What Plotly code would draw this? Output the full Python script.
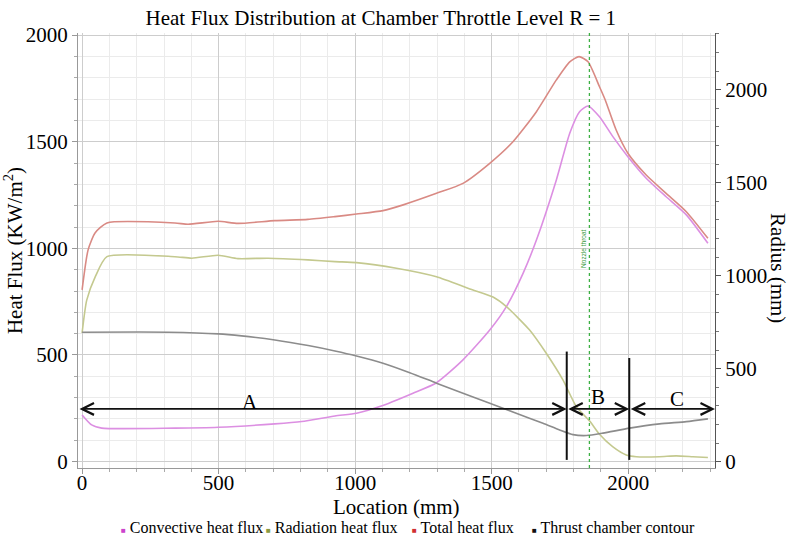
import plotly.graph_objects as go

# ---------------- data ----------------
total_x = [0, 22, 48, 91, 340, 388, 498, 571, 706, 827, 926, 1005, 1102, 1176, 1298,
           1395, 1493, 1578, 1664, 1737, 1786, 1820, 1853, 1895, 1916, 1956, 1999,
           2066, 2139, 2213, 2292]
total_flux = [805, 993, 1073, 1119, 1119, 1113, 1127, 1117, 1130, 1136, 1149, 1161, 1177,
              1204, 1258, 1305, 1399, 1500, 1641, 1790, 1875, 1899, 1875, 1758, 1696,
              1555, 1446, 1344, 1258, 1172, 1047]

conv_x = [0, 35, 72, 340, 499, 706, 804, 926, 1005, 1090, 1212, 1298, 1395, 1493, 1554,
          1615, 1664, 1737, 1786, 1822, 1853, 1895, 1944, 1999, 2066, 2139, 2213, 2292]
conv_flux = [219, 172, 157, 157, 161, 177, 188, 214, 227, 258, 321, 370, 477, 617, 727,
             883, 1039, 1321, 1540, 1641, 1668, 1617, 1524, 1430, 1329, 1242, 1157, 1024]

rad_x = [0, 17, 48, 91, 340, 402, 498, 571, 681, 827, 926, 1005, 1151, 1298, 1420, 1505,
         1554, 1639, 1700, 1761, 1810, 1859, 1895, 1943, 1993, 2030, 2115, 2176, 2237, 2292]
rad_flux = [603, 757, 866, 961, 961, 954, 968, 952, 954, 946, 938, 933, 907, 867, 810, 772,
            727, 617, 508, 383, 258, 190, 128, 70, 31, 23, 23, 27, 23, 19]

contour_x = [0, 316, 499, 584, 706, 828, 926, 1005, 1102, 1200, 1298, 1395, 1493, 1590,
             1688, 1749, 1798, 1847, 1908, 2005, 2115, 2213, 2292]
contour_r = [696, 696, 687, 676, 654, 624, 595, 568, 529, 478, 422, 368, 314, 260, 206,
             170, 145, 140, 153, 180, 203, 215, 230]

x_ticks = [0, 500, 1000, 1500, 2000]
y_ticks = [0, 500, 1000, 1500, 2000]
r_ticks = [0, 500, 1000, 1500, 2000]

series_names = ["Convective heat flux", "Radiation heat flux", "Total heat flux",
                "Thrust chamber contour"]
line_colors = ["#dc8fe2", "#c4c98f", "#d98a84", "#8c8c8c"]
legend_colors = ["#cc44cc", "#8a9a40", "#d03030", "#111111"]

# region markers (A / B / C) and nozzle throat
x_limits = [-15, 2318]
region_edges = [1775, 2004]
region_edge_tops = [516, 486]
region_edge_bottom = 8
region_arrow_level = 247
region_labels = ["A", "B", "C"]
region_label_x = [615, 1891, 2178]
region_label_y = [281, 305, 293]
throat_x = 1858

SERIF = "Liberation Serif, Times New Roman, serif"

fig = go.Figure()
fig.add_trace(go.Scatter(x=conv_x, y=conv_flux, mode="lines", name=series_names[0],
                         line=dict(color=line_colors[0], width=1.6, shape="spline", smoothing=0.6),
                         showlegend=False))
fig.add_trace(go.Scatter(x=rad_x, y=rad_flux, mode="lines", name=series_names[1],
                         line=dict(color=line_colors[1], width=1.6, shape="spline", smoothing=0.6),
                         showlegend=False))
fig.add_trace(go.Scatter(x=total_x, y=total_flux, mode="lines", name=series_names[2],
                         line=dict(color=line_colors[2], width=1.6, shape="spline", smoothing=0.6),
                         showlegend=False))
fig.add_trace(go.Scatter(x=contour_x, y=contour_r, mode="lines", name=series_names[3],
                         yaxis="y2",
                         line=dict(color=line_colors[3], width=1.6, shape="spline", smoothing=0.6),
                         showlegend=False))

# nozzle throat dotted line
fig.add_shape(type="line", xref="x", yref="paper", x0=throat_x, x1=throat_x, y0=0, y1=1,
              line=dict(color="#3cb043", width=1.3, dash="dot"))
fig.add_annotation(x=throat_x, xref="x", y=997, yref="y", text="Nozzle throat",
                   textangle=-90, showarrow=False, xanchor="right", xshift=-1,
                   font=dict(size=6.5, color="#3a9a40", family="Liberation Sans, Arial"))

# region boundary lines
for xe, top in zip(region_edges, region_edge_tops):
    fig.add_shape(type="line", xref="x", yref="y", x0=xe, x1=xe, y0=region_edge_bottom, y1=top,
                  line=dict(color="#111111", width=2))

# region double arrows
edges = [x_limits[0]] + region_edges + [x_limits[1]]
for i in range(len(edges) - 1):
    fig.add_annotation(x=edges[i + 1], y=region_arrow_level, xref="x", yref="y",
                       ax=edges[i], ay=region_arrow_level, axref="x", ayref="y",
                       text="", showarrow=True, arrowside="end+start",
                       arrowhead=5, startarrowhead=5, arrowsize=1.3, startarrowsize=1.3,
                       arrowwidth=1.8, arrowcolor="#111111", standoff=0, startstandoff=0)
for lab, lx, ly in zip(region_labels, region_label_x, region_label_y):
    fig.add_annotation(x=lx, y=ly, xref="x", yref="y", text=lab, showarrow=False,
                       font=dict(size=21, family=SERIF, color="#000"))

# right axis title (reads top to bottom)
fig.add_annotation(x=1.097, y=0.46, xref="paper", yref="paper", text="Radius (mm)",
                   textangle=90, showarrow=False, xshift=15,
                   font=dict(size=21, family=SERIF, color="#000"))

# x axis title
fig.add_annotation(x=0.5, y=(468 - 507) / 435, xref="paper", yref="paper",
                   text="Location (mm)", showarrow=False, yanchor="middle",
                   font=dict(size=21, family=SERIF, color="#000"))

# legend-like row
legend_px = [119, 264, 410, 530]
for name, col, px in zip(series_names, legend_colors, legend_px):
    fig.add_annotation(x=(px - 78) / 637, y=(468 - 527) / 435, xref="paper", yref="paper",
                       xanchor="left", yanchor="middle", showarrow=False,
                       text=f"<span style='color:{col};font-size:8px'>■</span> {name}",
                       font=dict(size=16, family=SERIF, color="#000"))

axis_common = dict(
    tickfont=dict(size=21, family=SERIF, color="#000"),
    showline=True, ticks="outside", ticklen=5, zeroline=False, automargin=False,
)

fig.update_layout(
    width=795, height=538,
    margin=dict(l=78, r=80, t=33, b=70),
    paper_bgcolor="white", plot_bgcolor="white",
    font=dict(family=SERIF, color="#000"),
    title=dict(text="Heat Flux Distribution at Chamber Throttle Level R = 1",
               x=0.479, xref="container", xanchor="center",
               y=1 - 18 / 538, yref="container", yanchor="middle",
               font=dict(size=21, family=SERIF, color="#000")),
    xaxis=dict(range=x_limits, tickvals=x_ticks, showgrid=True, gridcolor="#cdcdcd",
               linecolor="#999999", tickcolor="#999999", ticklabelstandoff=-9,
               minor=dict(dtick=100, tick0=0, showgrid=True, gridcolor="#ebebeb",
                          ticks="outside", ticklen=3, tickcolor="#aaaaaa"),
               **axis_common),
    yaxis=dict(range=[-30, 2010], tickvals=y_ticks, showgrid=True, gridcolor="#cdcdcd",
               linecolor="#999999", tickcolor="#999999",
               minor=dict(dtick=100, tick0=0, showgrid=True, gridcolor="#ebebeb",
                          ticks="outside", ticklen=3, tickcolor="#aaaaaa"),
               title=dict(text="Heat Flux (KW/m<sup>2</sup>)", standoff=6,
                          font=dict(size=21, family=SERIF, color="#000")),
               **axis_common),
    yaxis2=dict(range=[-34.4, 2305], tickvals=r_ticks, overlaying="y", side="right",
                showgrid=False, linecolor="#555555", tickcolor="#555555",
                minor=dict(dtick=100, tick0=0, ticks="outside", ticklen=3, tickcolor="#777777"),
                **axis_common),
    showlegend=False,
)

fig.write_html("out.html", config={"displayModeBar": False},
               post_script="document.body.style.margin='0';")
